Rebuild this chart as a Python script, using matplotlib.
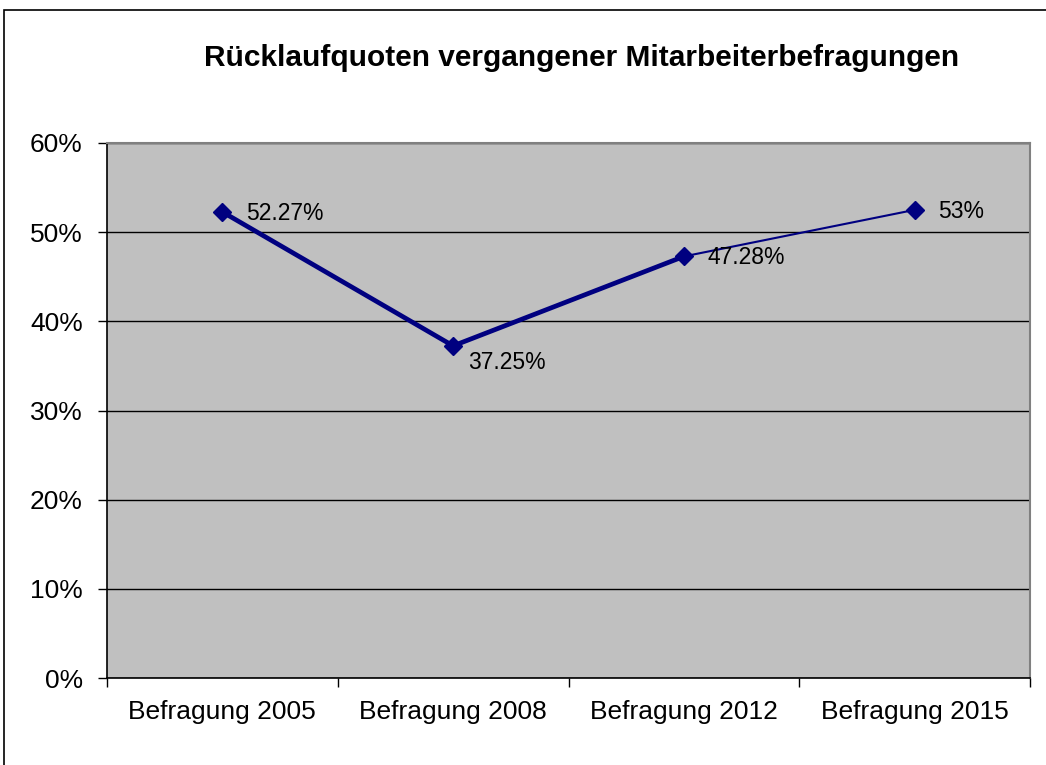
import matplotlib.pyplot as plt
from matplotlib.patches import Rectangle
import numpy as np

plt.rcParams['font.family'] = ['Liberation Sans', 'DejaVu Sans']

# Daten
categories = ['Befragung 2005', 'Befragung 2008', 'Befragung 2012', 'Befragung 2015']
quoten = [52.27, 37.25, 47.28, 52.5]
labels = ['52.27%', '37.25%', '47.28%', '53%']
navy = '#000080'

fig = plt.figure(figsize=(10.46, 7.65), dpi=100)
# Rahmen um das ganze Diagramm
fig.patches.append(Rectangle((4 / 1046, -0.05), 1.1, 1.05 - 10 / 765,
                             transform=fig.transFigure, fill=False,
                             edgecolor='black', linewidth=1.2, clip_on=False))

ax = fig.add_axes([107 / 1046, 87 / 765, 923 / 1046, 535 / 765])
ax.set_facecolor('#C0C0C0')

x = np.arange(len(categories))
# dicke Linie für die ersten drei Punkte, dünn für das letzte Segment
ax.plot(x[:3], quoten[:3], color=navy, linewidth=3.4, zorder=3)
ax.plot(x[2:], quoten[2:], color=navy, linewidth=1.5, zorder=3)
ax.plot(x, quoten, linestyle='none', marker='D', markersize=9,
        color=navy, zorder=4)

for i, (v, t) in enumerate(zip(quoten, labels)):
    if i == 1:
        off = (11, -12)
    else:
        off = (17, -1)
    ax.annotate(t, (x[i], v), xytext=off, textcoords='offset points',
                fontsize=16.5, va='center', ha='left')

ax.set_xlim(-0.5, len(categories) - 0.5)
ax.set_ylim(0, 60)
ax.set_yticks(np.arange(0, 61, 10))
ax.set_yticklabels([f'{v}%' for v in range(0, 61, 10)], fontsize=19)
ax.yaxis.grid(True, color='black', linewidth=1)
ax.set_axisbelow(True)

ax.set_xticks(x)
ax.set_xticklabels(categories, fontsize=19)
ax.tick_params(axis='x', which='major', length=0, pad=16)
ax.set_xticks(np.arange(-0.5, len(categories), 1), minor=True)
ax.tick_params(axis='x', which='minor', length=6.5, width=1)
ax.tick_params(axis='y', length=6.5, width=1, pad=11)

for s in ['top', 'right']:
    ax.spines[s].set_color('#808080')
    ax.spines[s].set_linewidth(1.5)
for s in ['left', 'bottom']:
    ax.spines[s].set_color('black')
    ax.spines[s].set_linewidth(1.2)

fig.text(582 / 1046, 1 - 58 / 765, 'Rücklaufquoten vergangener Mitarbeiterbefragungen',
         ha='center', va='center', fontsize=21.5, fontweight='bold')

plt.savefig('out.png', dpi=100)
